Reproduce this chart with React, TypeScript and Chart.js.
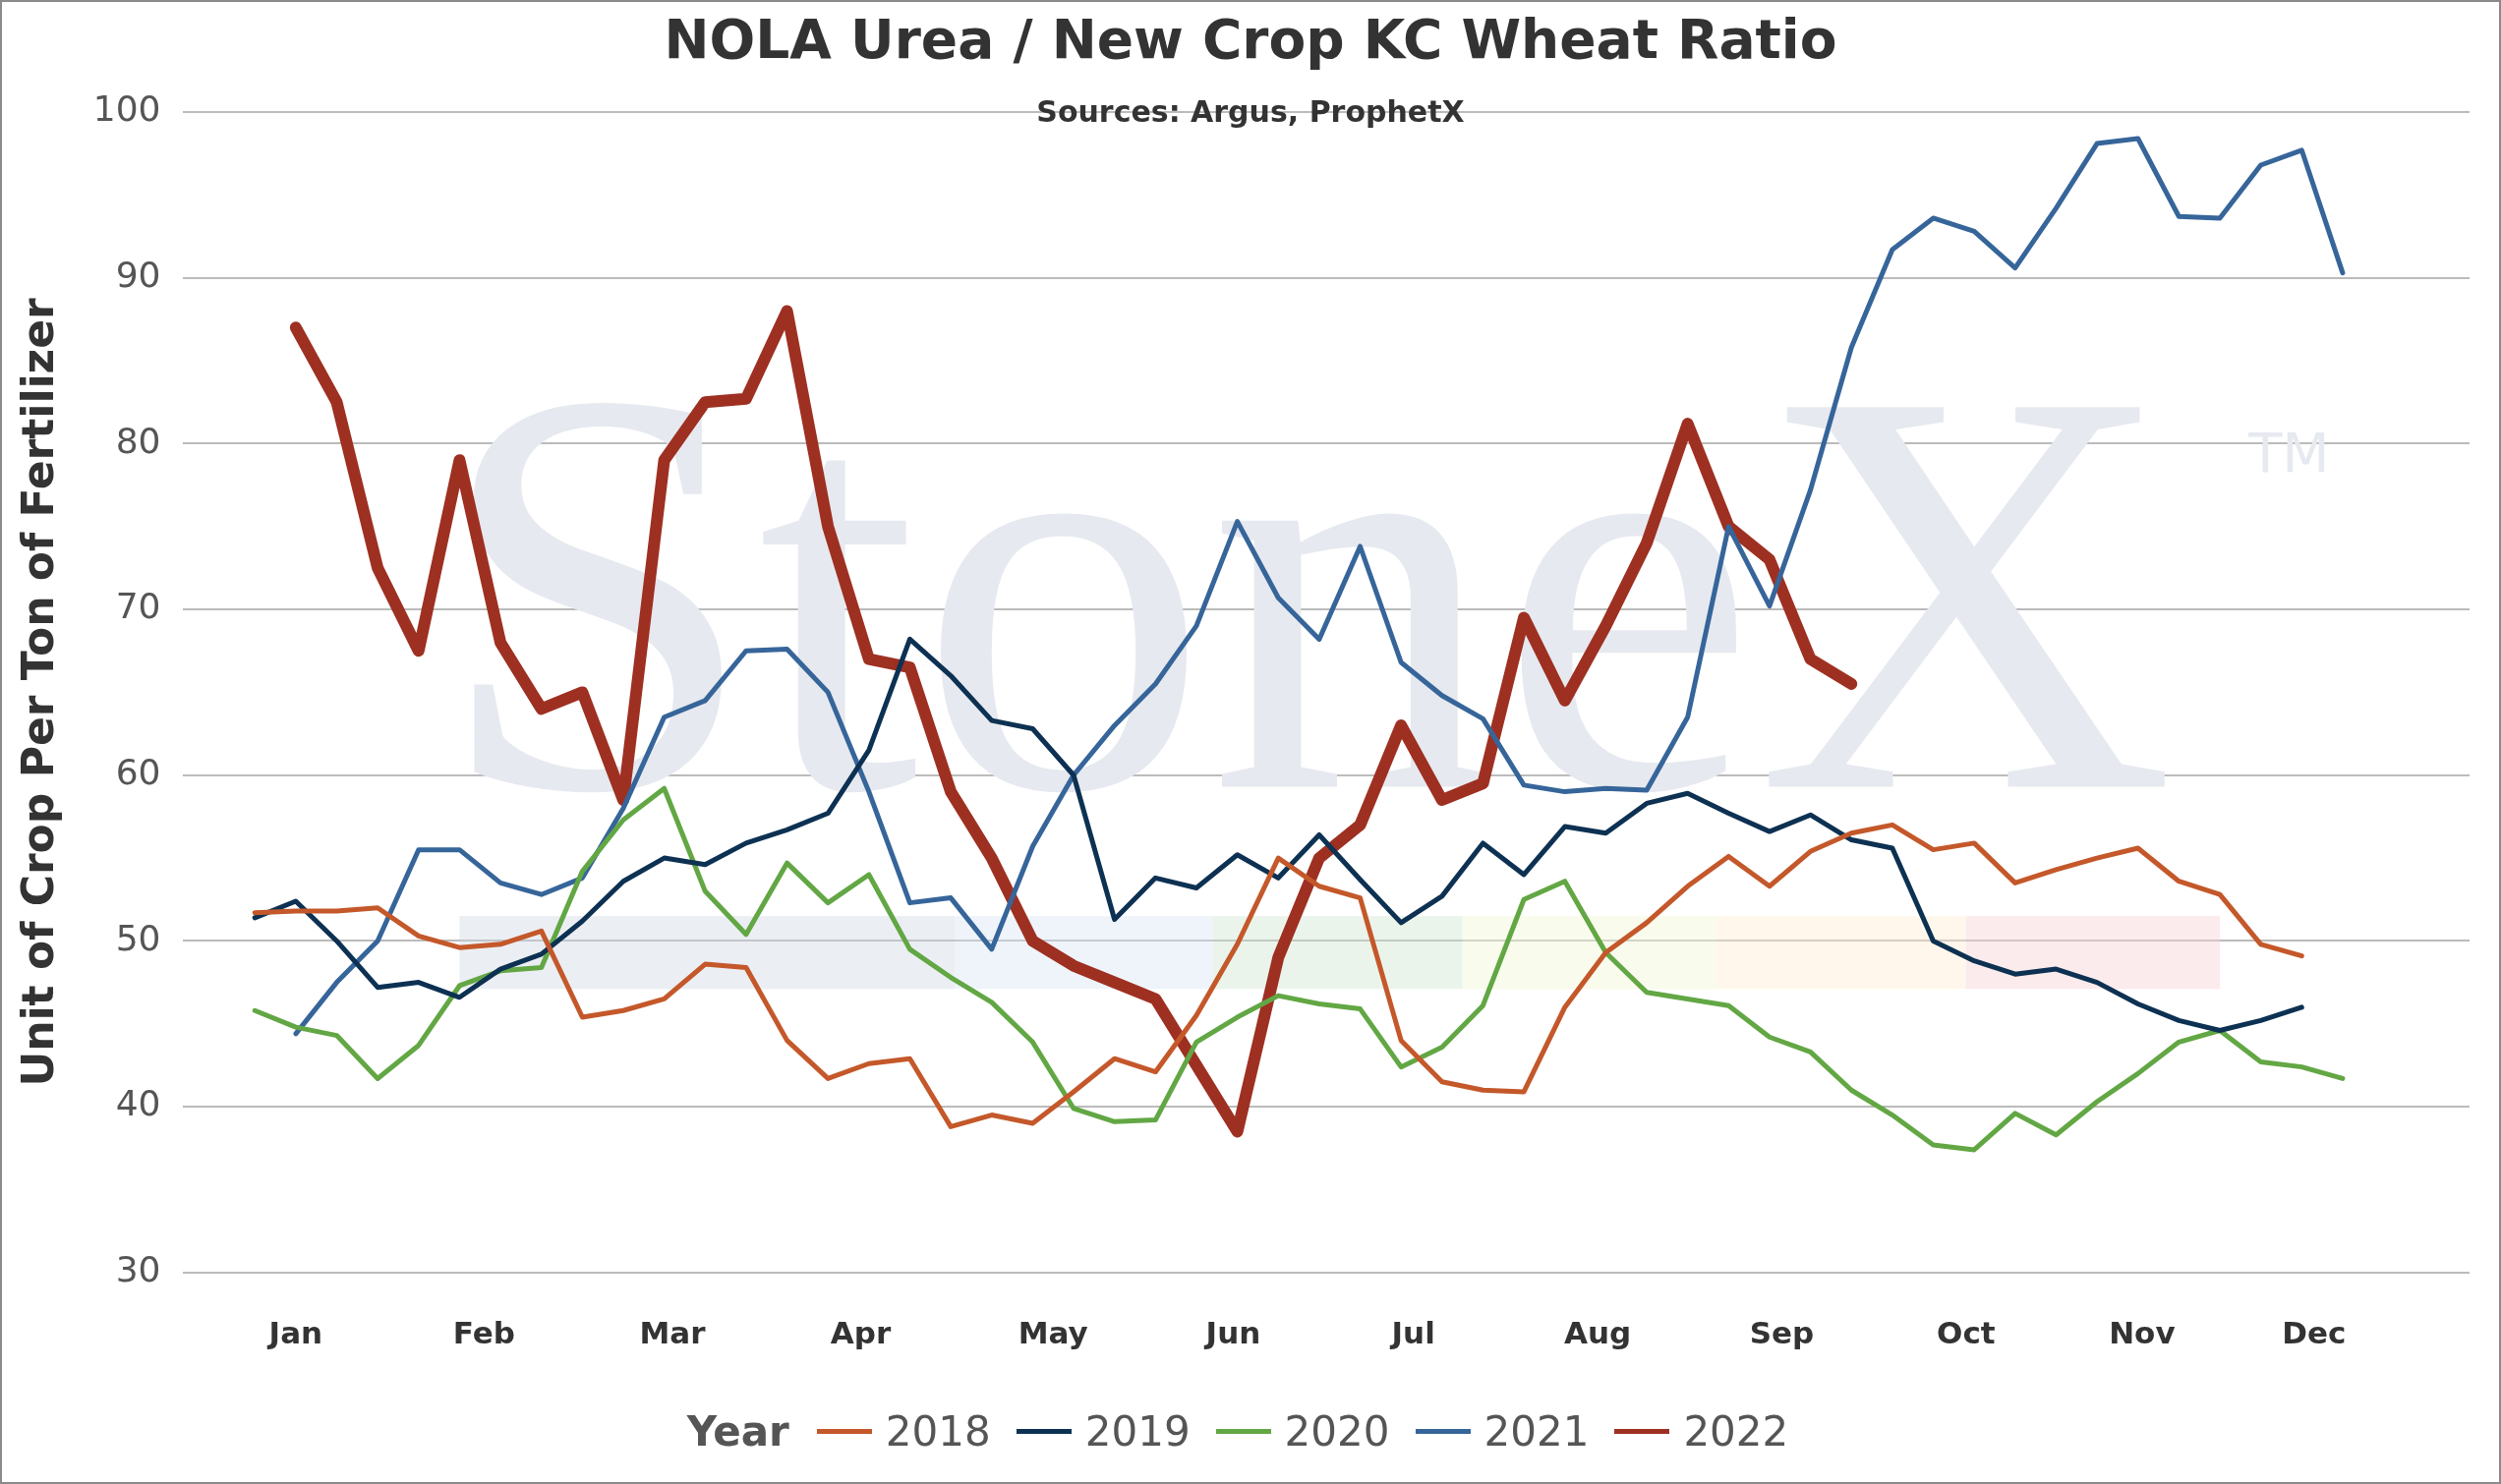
import React, { useEffect, useRef } from "react";
import { Chart, registerables } from "chart.js";
Chart.register(...registerables);

const monthLabels = ["Jan", "Feb", "Mar", "Apr", "May", "Jun", "Jul", "Aug", "Sep", "Oct", "Nov", "Dec"];
const monthPositions = [0, 4.6, 9.2, 13.8, 18.5, 22.9, 27.3, 31.8, 36.3, 40.8, 45.1, 49.3];

// weekly values; 2018-2020 begin one week earlier (x = -1)
const start2018 = -1;
const v2018 = [51.7, 51.8, 51.8, 52, 50.3, 49.6, 49.8, 50.6, 45.4, 45.8, 46.5, 48.6, 48.4, 44, 41.7, 42.6, 42.9, 38.8, 39.5, 39, 40.9, 42.9, 42.1, 45.5, 49.8, 55, 53.3, 52.6, 44, 41.5, 41, 40.9, 46, 49.3, 51.1, 53.3, 55.1, 53.3, 55.4, 56.5, 57, 55.5, 55.9, 53.5, 54.3, 55, 55.6, 53.6, 52.8, 49.8, 49.1];
const start2019 = -1;
const v2019 = [51.4, 52.4, 50, 47.2, 47.5, 46.6, 48.3, 49.2, 51.2, 53.6, 55, 54.6, 55.9, 56.7, 57.7, 61.5, 68.2, 66, 63.3, 62.8, 60, 51.3, 53.8, 53.2, 55.2, 53.8, 56.4, 53.7, 51.1, 52.7, 55.9, 54, 56.9, 56.5, 58.3, 58.9, 57.7, 56.6, 57.6, 56.1, 55.6, 50, 48.8, 48, 48.3, 47.5, 46.2, 45.2, 44.6, 45.2, 46];
const start2020 = -1;
const v2020 = [45.8, 44.8, 44.3, 41.7, 43.7, 47.3, 48.2, 48.4, 54.2, 57.3, 59.2, 53, 50.4, 54.7, 52.3, 54, 49.5, 47.8, 46.3, 43.9, 39.9, 39.1, 39.2, 43.9, 45.4, 46.7, 46.2, 45.9, 42.4, 43.6, 46.1, 52.5, 53.6, 49.3, 46.9, 46.5, 46.1, 44.2, 43.3, 41, 39.5, 37.7, 37.4, 39.6, 38.3, 40.3, 42, 43.9, 44.6, 42.7, 42.4, 41.7];
const start2021 = 0;
const v2021 = [44.4, 47.5, 50, 55.5, 55.5, 53.5, 52.8, 53.8, 58, 63.5, 64.5, 67.5, 67.6, 65, 59, 52.3, 52.6, 49.5, 55.7, 60, 63, 65.5, 69, 75.3, 70.7, 68.2, 73.8, 66.8, 64.8, 63.4, 59.4, 59, 59.2, 59.1, 63.5, 75, 70.2, 77.2, 85.8, 91.7, 93.6, 92.8, 90.6, 94.2, 98.1, 98.4, 93.7, 93.6, 96.8, 97.7, 90.3];
const start2022 = 0;
const v2022 = [87, 82.5, 72.5, 67.5, 79, 68, 64, 65, 58.5, 79, 82.5, 82.7, 88, 75, 67, 66.5, 59, 55, 50, 48.5, 47.5, 46.5, 42.5, 38.5, 49, 55, 57, 63, 58.5, 59.5, 69.5, 64.5, 69, 74, 81.2, 75, 73, 67, 65.5];

const bandColors = ["rgba(205,213,226,0.4)", "rgba(215,228,242,0.4)", "rgba(205,228,205,0.4)", "rgba(242,246,212,0.45)", "rgba(255,234,205,0.4)", "rgba(246,210,214,0.45)"];
const bandEdges = [4, 16.1, 22.4, 28.5, 34.7, 40.8, 47];
const bandLow = 47.1;
const bandHigh = 51.5;

const pts = (start: number, arr: number[]) => arr.map((y, i) => ({ x: start + i, y }));

const bgPlugin = {
  id: "bg",
  beforeDatasetsDraw(chart: any) {
    const { ctx, scales } = chart;
    const xs = scales.x, ys = scales.y;
    ctx.save();
    ctx.fillStyle = "#E6E9EF";
    ctx.font = "590px 'Liberation Serif', serif";
    ctx.textBaseline = "alphabetic";
    ctx.textAlign = "left";
    ctx.fillText("StoneX", xs.getPixelForValue(3.4), ys.getPixelForValue(59.3));
    ctx.font = "56px 'DejaVu Sans', sans-serif";
    ctx.fillText("TM", xs.getPixelForValue(47.7), ys.getPixelForValue(78.3));
    for (let i = 0; i < bandEdges.length - 1; i++) {
      const x0 = xs.getPixelForValue(bandEdges[i]);
      const x1 = xs.getPixelForValue(bandEdges[i + 1]);
      ctx.fillStyle = bandColors[i];
      ctx.fillRect(x0, ys.getPixelForValue(bandHigh), x1 - x0, ys.getPixelForValue(bandLow) - ys.getPixelForValue(bandHigh));
    }
    ctx.restore();
  },
};

const seriesDefs = [
  { label: "2018", color: "#C4582A", start: start2018, data: v2018, w: 5 },
  { label: "2019", color: "#0D3152", start: start2019, data: v2019, w: 5 },
  { label: "2020", color: "#62A744", start: start2020, data: v2020, w: 5 },
  { label: "2021", color: "#36659A", start: start2021, data: v2021, w: 5 },
  { label: "2022", color: "#9E3022", start: start2022, data: v2022, w: 12 },
];

export default function App() {
  const ref = useRef<HTMLCanvasElement>(null);
  useEffect(() => {
    document.body.style.margin = "0";
    const chart = new Chart(ref.current!, {
      type: "line",
      data: {
        datasets: seriesDefs.map((s) => ({
          label: s.label,
          data: pts(s.start, s.data),
          borderColor: s.color,
          backgroundColor: s.color,
          borderWidth: s.w,
          pointRadius: 0,
          tension: 0,
          borderJoinStyle: "round",
          borderCapStyle: "round",
        })),
      },
      options: {
        animation: false,
        responsive: false,
        devicePixelRatio: 1,
        layout: { padding: { top: 112, left: 10, right: 30, bottom: 92 } },
        plugins: { legend: { display: false }, title: { display: false }, tooltip: { enabled: false } },
        scales: {
          x: {
            type: "linear",
            min: -2.77,
            max: 53.1,
            afterBuildTicks: (axis: any) => {
              axis.ticks = monthPositions.map((v) => ({ value: v }));
            },
            ticks: {
              autoSkip: false,
              maxRotation: 0,
              padding: 38,
              color: "#333",
              font: { family: "'DejaVu Sans', Verdana, sans-serif", size: 31, weight: "bold" },
              callback: (v: any) => {
                const i = monthPositions.indexOf(Number(v));
                return i >= 0 ? monthLabels[i] : "";
              },
            },
            grid: { display: false },
            border: { display: false },
          },
          y: {
            min: 30,
            max: 100,
            ticks: { stepSize: 10, color: "#555", padding: 22, font: { family: "'DejaVu Sans', Verdana, sans-serif", size: 36 } },
            grid: { color: "#BBBBBB", lineWidth: 2, drawTicks: false },
            border: { display: false },
            title: {
              display: true,
              text: "Unit of Crop Per Ton of Fertilizer",
              color: "#333",
              padding: { bottom: 4 },
              font: { family: "'DejaVu Sans', Verdana, sans-serif", size: 44, weight: "bold" },
            },
          },
        },
      } as any,
      plugins: [bgPlugin],
    });
    return () => chart.destroy();
  }, []);

  const font = "'DejaVu Sans', Verdana, sans-serif";
  return (
    <div style={{ position: "relative", width: 2544, height: 1510, boxSizing: "border-box", border: "2px solid #8A8A8A", overflow: "hidden", background: "#fff" }}>
      <canvas ref={ref} width={2540} height={1506} style={{ position: "absolute", left: 0, top: 0 }} />
      <div style={{ position: "absolute", top: 6, left: 0, width: "100%", textAlign: "center", fontFamily: font, fontWeight: "bold", fontSize: 55, color: "#333" }}>
        NOLA Urea / New Crop KC Wheat Ratio
      </div>
      <div style={{ position: "absolute", top: 94, left: 0, width: "100%", textAlign: "center", fontFamily: font, fontWeight: "bold", fontSize: 30, color: "#333" }}>
        Sources: Argus, ProphetX
      </div>
      <div style={{ position: "absolute", top: 1430, left: 0, width: "100%", display: "flex", justifyContent: "center", alignItems: "center", fontFamily: font, fontSize: 42, color: "#555" }}>
        <span style={{ fontWeight: "bold", marginRight: 28 }}>Year</span>
        {seriesDefs.map((s) => (
          <span key={s.label} style={{ display: "flex", alignItems: "center", marginRight: 26 }}>
            <span style={{ display: "inline-block", width: 56, height: 5, background: s.color, marginRight: 14 }} />
            {s.label}
          </span>
        ))}
      </div>
    </div>
  );
}
